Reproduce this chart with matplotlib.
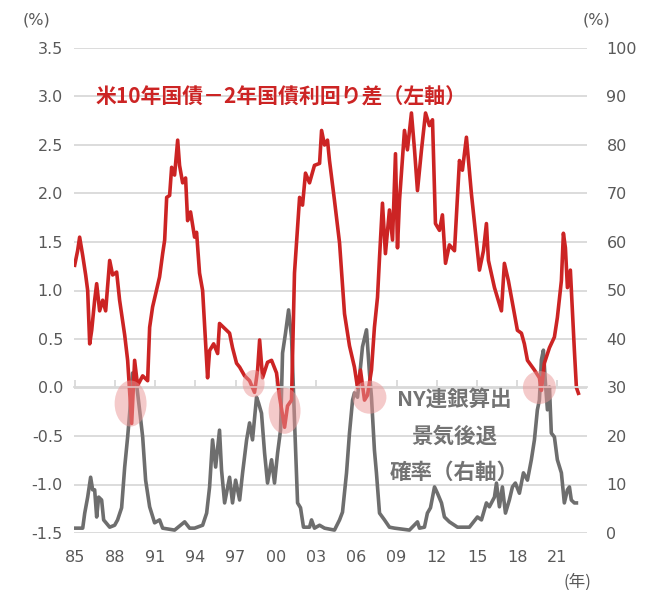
import numpy as np
import matplotlib
matplotlib.use("Agg")
import matplotlib.pyplot as plt
from matplotlib.patches import Ellipse

plt.rcParams['font.family'] = ['DejaVu Sans']
CJK = ['Noto Sans CJK JP', 'DejaVu Sans']

# 10y - 2y spread (left axis, %)
spread_year = [1985.00, 1985.22, 1985.37, 1985.60, 1985.82, 1985.97, 1986.12, 1986.27, 1986.49, 1986.64,
               1986.86, 1987.09, 1987.31, 1987.61, 1987.83, 1988.13, 1988.35, 1988.73, 1988.95, 1989.25,
               1989.47, 1989.69, 1990.07, 1990.44, 1990.59, 1990.81, 1990.96, 1991.33, 1991.56, 1991.71,
               1991.86, 1992.08, 1992.23, 1992.45, 1992.68, 1992.82, 1993.05, 1993.27, 1993.42, 1993.64,
               1993.94, 1994.09, 1994.31, 1994.54, 1994.91, 1995.06, 1995.36, 1995.66, 1995.80, 1996.18,
               1996.55, 1996.77, 1997.07, 1997.30, 1997.67, 1998.04, 1998.41, 1998.64, 1998.79, 1999.01,
               1999.38, 1999.68, 2000.05, 2000.28, 2000.65, 2000.87, 2001.17, 2001.39, 2001.77, 2001.99,
               2002.21, 2002.51, 2002.88, 2003.26, 2003.41, 2003.63, 2003.85, 2004.00, 2004.37, 2004.75,
               2005.12, 2005.49, 2005.86, 2006.09, 2006.31, 2006.61, 2006.83, 2007.13, 2007.35, 2007.58,
               2007.73, 2007.95, 2008.17, 2008.47, 2008.70, 2008.92, 2009.07, 2009.22, 2009.59, 2009.81,
               2010.11, 2010.34, 2010.56, 2010.86, 2011.16, 2011.45, 2011.68, 2011.90, 2012.20, 2012.42,
               2012.65, 2012.94, 2013.32, 2013.69, 2013.91, 2014.21, 2014.58, 2015.18, 2015.48, 2015.70,
               2015.85, 2016.30, 2016.82, 2017.04, 2017.34, 2017.64, 2018.01, 2018.31, 2018.53, 2018.76,
               2019.28, 2019.65, 2019.80, 2020.02, 2020.40, 2020.77, 2020.99, 2021.29, 2021.44, 2021.59,
               2021.74, 2021.96, 2022.11, 2022.26, 2022.41, 2022.56]
spread_val = [1.26, 1.41, 1.55, 1.36, 1.16, 1.00, 0.45, 0.59, 0.90, 1.07,
              0.79, 0.90, 0.79, 1.31, 1.16, 1.19, 0.90, 0.54, 0.28, -0.37,
              0.28, 0.02, 0.12, 0.07, 0.62, 0.83, 0.92, 1.14, 1.38, 1.52,
              1.96, 1.98, 2.27, 2.19, 2.55, 2.29, 2.11, 2.16, 1.72, 1.81,
              1.55, 1.60, 1.18, 1.00, 0.10, 0.38, 0.45, 0.35, 0.66, 0.61,
              0.56, 0.41, 0.25, 0.21, 0.12, 0.07, -0.05, 0.18, 0.49, 0.10,
              0.26, 0.28, 0.15, -0.10, -0.41, -0.19, -0.13, 1.18, 1.96, 1.88,
              2.21, 2.11, 2.29, 2.31, 2.65, 2.50, 2.55, 2.34, 1.93, 1.49,
              0.76, 0.43, 0.21, 0.00, 0.18, -0.13, -0.08, 0.18, 0.62, 0.93,
              1.34, 1.90, 1.38, 1.83, 1.52, 2.41, 1.44, 1.93, 2.65, 2.45,
              2.83, 2.45, 2.03, 2.45, 2.83, 2.70, 2.76, 1.69, 1.62, 1.78,
              1.28, 1.47, 1.41, 2.34, 2.24, 2.58, 2.00, 1.21, 1.41, 1.69,
              1.31, 1.03, 0.79, 1.28, 1.10, 0.87, 0.59, 0.56, 0.45, 0.28,
              0.18, 0.10, -0.03, 0.25, 0.41, 0.52, 0.72, 1.10, 1.59, 1.44,
              1.03, 1.21, 0.79, 0.38, 0.00, -0.06]

# NY Fed recession probability (right axis, %)
prob_year = [1985.00, 1985.60, 1985.75, 1985.97, 1986.19, 1986.34, 1986.49, 1986.64, 1986.79, 1987.01,
             1987.16, 1987.61, 1987.98, 1988.20, 1988.50, 1988.73, 1988.95, 1989.10, 1989.32, 1989.62,
             1989.84, 1990.07, 1990.29, 1990.59, 1990.96, 1991.33, 1991.56, 1992.45, 1993.20, 1993.57,
             1993.94, 1994.54, 1994.84, 1995.06, 1995.28, 1995.51, 1995.80, 1995.95, 1996.18, 1996.55,
             1996.77, 1997.00, 1997.30, 1997.52, 1997.82, 1998.04, 1998.26, 1998.56, 1998.71, 1998.93,
             1999.16, 1999.38, 1999.68, 1999.90, 2000.13, 2000.35, 2000.50, 2000.72, 2000.95, 2001.17,
             2001.39, 2001.62, 2001.84, 2002.06, 2002.51, 2002.66, 2002.88, 2003.26, 2003.63, 2004.37,
             2004.75, 2004.97, 2005.27, 2005.49, 2005.72, 2005.86, 2006.09, 2006.31, 2006.46, 2006.76,
             2006.98, 2007.13, 2007.35, 2007.50, 2007.73, 2008.10, 2008.47, 2008.85, 2009.96, 2010.56,
             2010.71, 2011.08, 2011.30, 2011.53, 2011.83, 2012.05, 2012.35, 2012.57, 2012.94, 2013.54,
             2014.43, 2015.03, 2015.33, 2015.70, 2015.92, 2016.30, 2016.45, 2016.67, 2016.89, 2017.12,
             2017.41, 2017.64, 2017.86, 2018.16, 2018.46, 2018.76, 2019.05, 2019.28, 2019.50, 2019.65,
             2019.80, 2019.95, 2020.10, 2020.25, 2020.40, 2020.54, 2020.77, 2020.99, 2021.29, 2021.51,
             2021.74, 2021.89, 2022.03, 2022.26, 2022.41]
prob_val = [1.0, 1.0, 4.1, 7.4, 11.5, 8.9, 8.9, 3.3, 7.4, 6.8,
            2.7, 1.2, 1.6, 2.7, 5.2, 13.6, 19.8, 24.7, 33.0, 30.5,
            25.4, 19.8, 10.9, 5.4, 2.1, 2.7, 1.0, 0.6, 2.3, 1.0,
            1.0, 1.6, 4.1, 9.5, 19.2, 13.6, 21.2, 13.0, 6.2, 11.5,
            6.2, 10.9, 6.8, 12.4, 19.2, 22.7, 19.2, 28.0, 26.8, 24.7,
            16.5, 10.3, 15.1, 10.3, 16.5, 21.2, 37.1, 41.2, 46.0, 40.4,
            23.3, 6.2, 5.2, 1.2, 1.2, 2.7, 1.0, 1.6, 1.0, 0.6,
            2.7, 4.3, 12.4, 20.6, 27.4, 28.9, 28.0, 34.2, 38.4, 41.9,
            33.0, 28.0, 17.1, 12.4, 4.1, 2.7, 1.2, 1.0, 0.6, 2.3,
            1.0, 1.2, 4.1, 5.2, 9.5, 8.2, 6.2, 3.3, 2.3, 1.2,
            1.2, 3.3, 2.7, 6.2, 5.4, 7.4, 10.3, 5.4, 9.5, 4.1,
            6.8, 9.5, 10.3, 8.2, 12.4, 10.9, 15.1, 19.2, 25.4, 27.4,
            35.7, 37.7, 30.9, 25.4, 30.1, 20.6, 19.8, 15.1, 12.4, 6.2,
            8.9, 9.5, 6.8, 6.2, 6.2]

# inverted-curve highlights: centre year, centre value, width (yr), height (%pt)
circ_year = [1989.17, 1998.34, 2000.65, 2006.98, 2019.65]
circ_val = [-0.165, 0.04, -0.24, -0.10, 0.0]
circ_w = [2.38, 1.64, 2.38, 2.53, 2.46]
circ_h = [0.475, 0.28, 0.475, 0.34, 0.34]

tick_years = list(range(1985, 2022, 3))
tick_labels = ['%02d' % (y % 100) for y in tick_years]

RED = '#cc2424'
GRAY = '#6e6e6e'
TXT = '#595959'
GRID = '#d9d9d9'

fig = plt.figure(figsize=(6.57, 5.90), dpi=100)
ax = fig.add_axes([74 / 657, 1 - 533 / 590, (587 - 74) / 657, (533 - 48) / 590])
ax2 = ax.twinx()
ax.set_zorder(ax2.get_zorder() + 1)
ax.patch.set_visible(False)
ax2.patch.set_visible(False)

# right axis: recession probability
ax2.plot(prob_year, prob_val, color=GRAY, lw=2.6, solid_joinstyle='round')
ax2.set_ylim(0, 100)
ax2.set_yticks(range(0, 101, 10))
ax2.yaxis.grid(True, color=GRID, lw=1.3)
ax2.set_axisbelow(True)
ax2.tick_params(axis='y', length=0, pad=14, labelsize=11.5, labelcolor=TXT)

# left axis: spread
ax.plot(spread_year, spread_val, color=RED, lw=2.6, solid_joinstyle='round')
ax.set_ylim(-1.5, 3.5)
ax.set_yticks(np.arange(-1.5, 3.51, 0.5))
ax.set_yticklabels(['%.1f' % v for v in np.arange(-1.5, 3.51, 0.5)])
ax.tick_params(axis='y', length=0, pad=8, labelsize=11.5, labelcolor=TXT)
ax.set_xlim(1984.95, 2023.2)

for cx, cy, w, h in zip(circ_year, circ_val, circ_w, circ_h):
    ax.add_patch(Ellipse((cx, cy), w, h, facecolor='#eb9696', edgecolor='none',
                         alpha=0.5, zorder=5))

for a in (ax, ax2):
    for s in ('top', 'left', 'right'):
        a.spines[s].set_visible(False)
ax2.spines['bottom'].set_visible(False)
ax.spines['bottom'].set_position(('data', 0))
ax.spines['bottom'].set_color(GRID)
ax.spines['bottom'].set_linewidth(1.3)
ax.set_xticks(tick_years)
ax.tick_params(axis='x', direction='in', length=5, width=1.3, color=GRID, labelbottom=False)

sec = ax.secondary_xaxis(0.0)
sec.set_xticks(tick_years, tick_labels)
sec.spines['bottom'].set_visible(False)
sec.tick_params(axis='x', length=0, pad=12, labelsize=11.5, labelcolor=TXT)

# labels
fig.text(37 / 657, 1 - 20 / 590, '(%)', ha='center', va='center', fontsize=11.5, color=TXT)
fig.text(597 / 657, 1 - 20 / 590, '(%)', ha='center', va='center', fontsize=11.5, color=TXT)
fig.text(577 / 657, 1 - 582 / 590, '(年)', ha='center', va='center', fontsize=12,
         color=TXT, family=CJK)
fig.text(281 / 657, 1 - 97 / 590, '米10年国債－2年国債利回り差（左軸）', ha='center', va='center',
         fontsize=15, fontweight='bold', color=RED, family=CJK)
for txt, yy in zip(['NY連銀算出', '景気後退', '確率（右軸）'], [399, 436, 472]):
    fig.text(454 / 657, 1 - yy / 590, txt, ha='center', va='center', fontsize=15.5,
             fontweight='bold', color='#737373', family=CJK)

plt.savefig('out.png', dpi=100, facecolor='white')
